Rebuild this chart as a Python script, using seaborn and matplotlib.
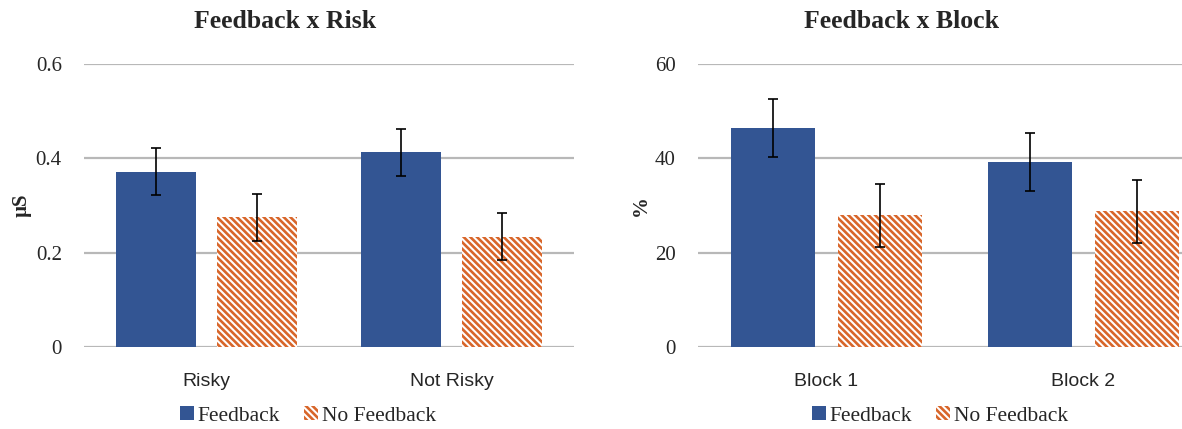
import numpy as np
import pandas as pd
import matplotlib
matplotlib.use("Agg")
import matplotlib.pyplot as plt
import seaborn as sns
from matplotlib.patches import Patch

# data
conditions = ["Feedback", "No Feedback"]
risk_cats = ["Risky", "Not Risky"]
risk_feedback = [0.372, 0.413]
risk_nofeedback = [0.275, 0.234]
risk_err_feedback = [0.050, 0.050]
risk_err_nofeedback = [0.050, 0.050]

block_cats = ["Block 1", "Block 2"]
block_feedback = [46.4, 39.2]
block_nofeedback = [27.9, 28.8]
block_err_feedback = [6.2, 6.1]
block_err_nofeedback = [6.6, 6.7]

blue = "#335593"
orange = "#D8662A"
grid_col = "#B8B8B8"
hatch = "\\" * 5
serif = ["Times New Roman", "Liberation Serif", "DejaVu Serif"]
sans = ["Liberation Sans", "DejaVu Sans"]

sns.set_theme(style="white")
plt.rcParams["font.family"] = serif
plt.rcParams["hatch.linewidth"] = 1.9


def make_df(cats, fb, nfb):
    return pd.DataFrame({
        "cat": cats * 2,
        "cond": [conditions[0]] * len(cats) + [conditions[1]] * len(cats),
        "val": list(fb) + list(nfb),
    })


def draw(ax, cats, fb, nfb, efb, enfb, ylabel, ymax, yticks, ticklabels):
    df = make_df(cats, fb, nfb)
    sns.barplot(data=df, x="cat", y="val", hue="cond", hue_order=conditions,
                palette=[blue, "white"], width=0.83, gap=0.21, errorbar=None,
                saturation=1, legend=False, ax=ax)
    for p in ax.containers[0]:
        p.set_linewidth(0)
    for p in ax.containers[1]:
        p.set_hatch(hatch)
        p.set_edgecolor(orange)
        p.set_linewidth(0)
    for cont, errs in zip(ax.containers, [efb, enfb]):
        xs = [p.get_x() + p.get_width() / 2 for p in cont]
        ys = [p.get_height() for p in cont]
        ax.errorbar(xs, ys, yerr=errs, fmt="none", ecolor="black",
                    elinewidth=1.2, capsize=3.8, capthick=1.2, zorder=5)
    ax.set_xlim(-0.5, len(cats) - 0.5)
    ax.set_ylim(0, ymax)
    ax.set_yticks(yticks)
    ax.set_yticklabels(ticklabels, fontsize=15)
    ax.yaxis.grid(True, color=grid_col, linewidth=1.6)
    ax.set_axisbelow(True)
    sns.despine(ax=ax, left=True, bottom=True, top=True, right=True)
    ax.tick_params(axis="both", length=0)
    ax.tick_params(axis="y", pad=16)
    ax.tick_params(axis="x", pad=19)
    for lab in ax.get_xticklabels():
        lab.set_fontfamily(sans)
        lab.set_fontsize(14)
    ax.set_xlabel("")
    ax.set_ylabel(ylabel, fontsize=15, fontweight="bold", labelpad=3)


fig = plt.figure(figsize=(11.82, 4.29), dpi=100)
ax1 = fig.add_axes([84 / 1182, 1 - 347 / 429, 490 / 1182, 283 / 429])
ax2 = fig.add_axes([698 / 1182, 1 - 347 / 429, 514 / 1182, 283 / 429])

draw(ax1, risk_cats, risk_feedback, risk_nofeedback, risk_err_feedback,
     risk_err_nofeedback, "µS", 0.6, [0, 0.2, 0.4, 0.6],
     ["0", "0.2", "0.4", "0.6"])
draw(ax2, block_cats, block_feedback, block_nofeedback, block_err_feedback,
     block_err_nofeedback, "%", 60, [0, 20, 40, 60],
     ["0", "20", "40", "60"])

fig.text(285 / 1182, 1 - 22 / 429, "Feedback x Risk", ha="center", va="center",
         fontsize=18.5, fontweight="bold")
fig.text(902 / 1182, 1 - 22 / 429, "Feedback x Block", ha="center", va="center",
         fontsize=18.5, fontweight="bold")

handles = [Patch(facecolor=blue, edgecolor="none", label=conditions[0]),
           Patch(facecolor="white", edgecolor=orange, hatch=hatch,
                 linewidth=0, label=conditions[1])]
for cx in [308, 940]:
    fig.legend(handles=handles, loc="center", bbox_to_anchor=(cx / 1182, 1 - 416 / 429),
               ncol=2, frameon=False, fontsize=15.5, handlelength=0.65, handleheight=0.65,
               handletextpad=0.2, columnspacing=1.1)

fig.savefig("out.png", dpi=100)
